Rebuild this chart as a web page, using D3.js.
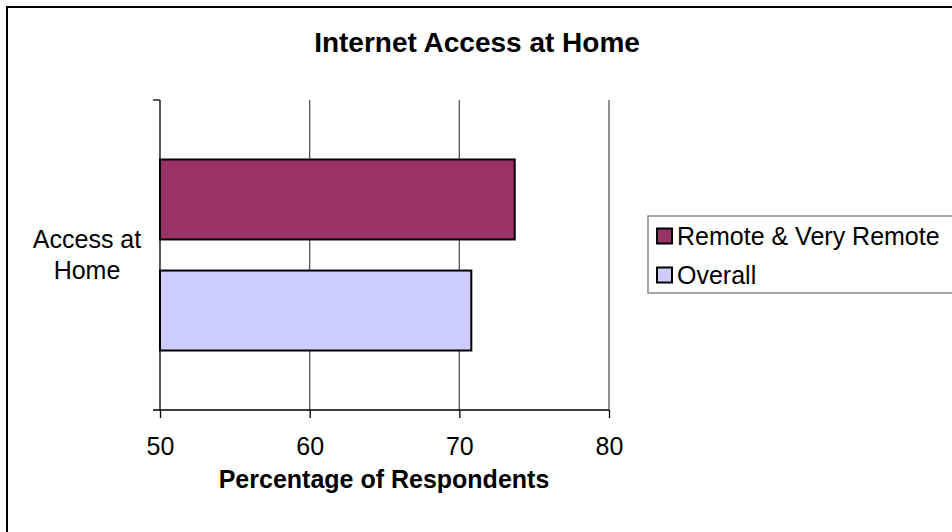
<!DOCTYPE html>
<html><head><meta charset="utf-8">
<script src="https://cdn.jsdelivr.net/npm/d3@7"></script>
<style>body{margin:0;background:#fff}svg{display:block}text{font-family:"Liberation Sans",Arial,sans-serif;fill:#000}</style>
</head><body>
<script>
const categories = ["Access at Home"];
const seriesNames = ["Remote & Very Remote", "Overall"];
const seriesColors = ["#993366", "#CCCCFF"];
const remoteValues = [73.7];
const overallValues = [70.8];
const xTicks = [50, 60, 70, 80];

const W = 952, H = 532;
const svg = d3.select("body").append("svg").attr("width", W).attr("height", H);
svg.append("rect").attr("x", 7).attr("y", 7).attr("width", W).attr("height", H)
  .attr("fill", "#fff").attr("stroke", "#000").attr("stroke-width", 2);

const plot = {l: 160, r: 609, t: 100, b: 410};
const x = d3.scaleLinear().domain([50, 80]).range([plot.l, plot.r]);
const y0 = d3.scaleBand().domain(categories).range([plot.t, plot.b]).paddingInner(0).paddingOuter(0.3115);
const y1 = d3.scaleBand().domain(seriesNames).range([0, y0.bandwidth()]).paddingInner(0.28).paddingOuter(0);

// gridlines
svg.append("g").selectAll("line").data(xTicks.slice(1)).join("line")
  .attr("x1", d => x(d)).attr("x2", d => x(d)).attr("y1", plot.t).attr("y2", plot.b)
  .attr("stroke", "#555").attr("stroke-width", 1.3);

// bars
const data = categories.map((c, i) => ({cat: c, vals: [remoteValues[i], overallValues[i]]}));
const g = svg.append("g");
data.forEach(d => {
  seriesNames.forEach((s, j) => {
    g.append("rect")
      .attr("x", x(50)).attr("y", y0(d.cat) + y1(s))
      .attr("width", x(d.vals[j]) - x(50)).attr("height", y1.bandwidth())
      .attr("fill", seriesColors[j]).attr("stroke", "#000").attr("stroke-width", 2);
  });
});

// x axis
const xAxis = d3.axisBottom(x).tickValues(xTicks).tickSize(8).tickPadding(19);
const xg = svg.append("g").attr("transform", `translate(0,${plot.b})`).call(xAxis);
xg.select(".domain").remove();
xg.selectAll(".tick line").attr("stroke", "#000").attr("stroke-width", 1.3);
xg.selectAll(".tick text").attr("font-size", 25).attr("font-family", "Liberation Sans, Arial, sans-serif").attr("fill", "#000");
svg.append("line").attr("x1", plot.l - 7).attr("x2", plot.r).attr("y1", plot.b).attr("y2", plot.b)
  .attr("stroke", "#000").attr("stroke-width", 1.3);

// y axis
svg.append("line").attr("x1", plot.l).attr("x2", plot.l).attr("y1", plot.t).attr("y2", plot.b)
  .attr("stroke", "#000").attr("stroke-width", 1.3);
svg.append("line").attr("x1", plot.l - 7).attr("x2", plot.l).attr("y1", plot.t).attr("y2", plot.t)
  .attr("stroke", "#000").attr("stroke-width", 1.3);
const catLabel = svg.append("text").attr("text-anchor", "middle").attr("font-size", 25);
const cy = y0(categories[0]) + y0.bandwidth() / 2;
catLabel.append("tspan").attr("x", 87).attr("y", cy - 7).text("Access at");
catLabel.append("tspan").attr("x", 87).attr("y", cy + 24).text("Home");

// titles
svg.append("text").attr("x", 477).attr("y", 52).attr("text-anchor", "middle")
  .attr("font-size", 28).attr("font-weight", "bold").text("Internet Access at Home");
svg.append("text").attr("x", 384).attr("y", 488).attr("text-anchor", "middle")
  .attr("font-size", 25).attr("font-weight", "bold").text("Percentage of Respondents");

// legend
const lg = svg.append("g");
lg.append("rect").attr("x", 648).attr("y", 216).attr("width", 320).attr("height", 77)
  .attr("fill", "#fff").attr("stroke", "#777").attr("stroke-width", 1.3);
seriesNames.forEach((s, j) => {
  const yy = 236 + j * 39;
  lg.append("rect").attr("x", 657).attr("y", yy - 7.5).attr("width", 15).attr("height", 15)
    .attr("fill", seriesColors[j]).attr("stroke", "#000").attr("stroke-width", 2);
  lg.append("text").attr("x", 677).attr("y", yy + 9).attr("font-size", 25).text(s);
});
</script>
</body></html>
